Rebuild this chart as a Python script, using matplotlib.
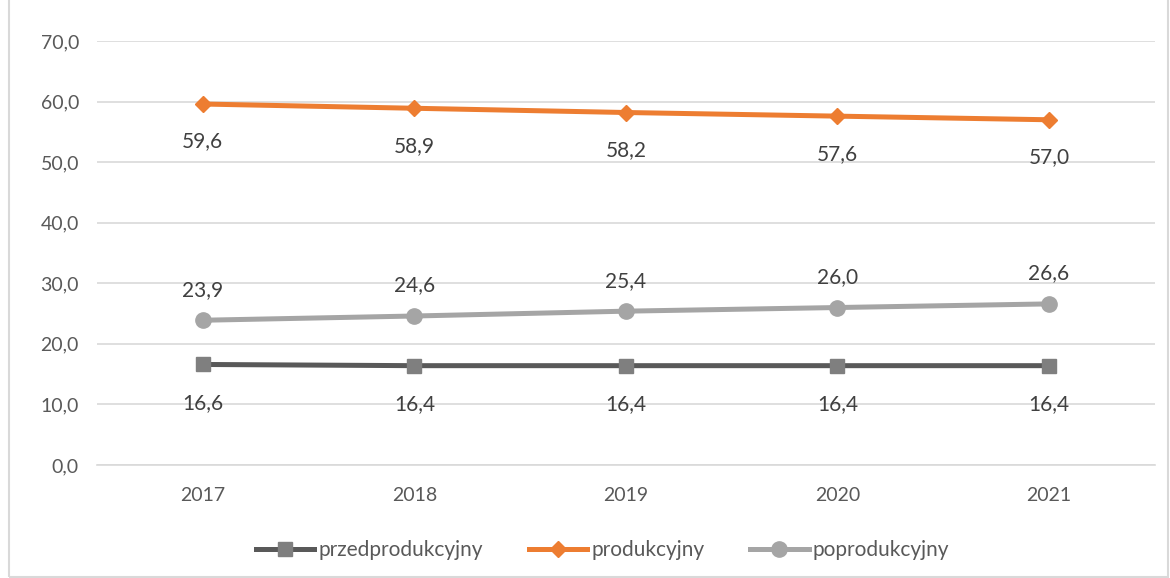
import matplotlib
matplotlib.use("Agg")
import matplotlib.pyplot as plt
from matplotlib.patches import Rectangle

years = ["2017", "2018", "2019", "2020", "2021"]
przed = [16.6, 16.4, 16.4, 16.4, 16.4]
prod = [59.6, 58.9, 58.2, 57.6, 57.0]
poprod = [23.9, 24.6, 25.4, 26.0, 26.6]
yticks = [0, 10, 20, 30, 40, 50, 60, 70]

plt.rcParams['font.family'] = ['Lato', 'DejaVu Sans']
txt = '#404040'

fig = plt.figure(figsize=(11.7, 5.78), dpi=100)
ax = fig.add_axes([0.0829, 0.1955, 0.9041, 0.7335])
x = list(range(len(years)))

ax.plot(x, przed, color='#595959', lw=3.6, marker='s', ms=10, mfc='#7f7f7f', mec='#7f7f7f', label='przedprodukcyjny', zorder=3)
ax.plot(x, prod, color='#ED7D31', lw=3.6, marker='D', ms=8, mfc='#ED7D31', mec='#ED7D31', label='produkcyjny', zorder=3)
ax.plot(x, poprod, color='#A5A5A5', lw=3.6, marker='o', ms=11, mfc='#A5A5A5', mec='#A5A5A5', label='poprodukcyjny', zorder=3)

def fmt(v):
    return f"{v:.1f}".replace('.', ',')

for i in x:
    ax.annotate(fmt(prod[i]), (i, prod[i]), xytext=(0, -27), textcoords='offset points', ha='center', va='center', fontsize=15, color=txt)
    ax.annotate(fmt(poprod[i]), (i, poprod[i]), xytext=(0, 22), textcoords='offset points', ha='center', va='center', fontsize=15, color=txt)
    ax.annotate(fmt(przed[i]), (i, przed[i]), xytext=(0, -28), textcoords='offset points', ha='center', va='center', fontsize=15, color=txt)

ax.set_xlim(-0.5, len(years) - 0.5)
ax.set_ylim(0, 70)
ax.set_yticks(yticks)
ax.set_yticklabels([fmt(v) for v in yticks], fontsize=14, color='#595959')
ax.set_xticks(x)
ax.set_xticklabels(years, fontsize=14, color='#595959')
ax.tick_params(length=0)
ax.tick_params(axis='x', pad=16)
ax.tick_params(axis='y', pad=13)
ax.grid(axis='y', color='#D9D9D9', lw=1.2)
ax.set_axisbelow(True)
for s in ['top', 'right', 'left']:
    ax.spines[s].set_visible(False)
ax.spines['bottom'].set_color('#D9D9D9')
ax.spines['bottom'].set_linewidth(1.2)

leg = fig.legend(loc='center', bbox_to_anchor=(0.515, 0.048), ncol=3, frameon=False, fontsize=15,
                 handlelength=2.8, columnspacing=2.2, handletextpad=0.2, labelcolor='#595959')

fig.patches.append(Rectangle((0.008, 0.002), 0.99, 1.2, transform=fig.transFigure, fill=False, edgecolor='#D9D9D9', lw=1.5))

fig.savefig('out.png', dpi=100)
